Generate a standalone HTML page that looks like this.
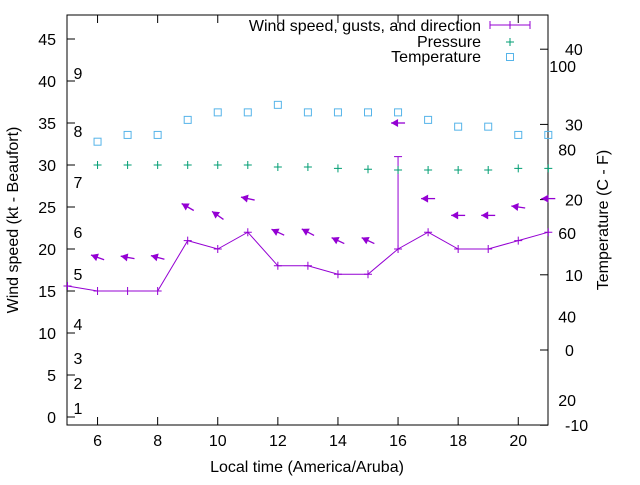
<!DOCTYPE html>
<html><head><meta charset="utf-8"><style>
body{margin:0;background:#fff}
svg{font-family:"Liberation Sans",sans-serif;font-size:16px}
</style></head><body>
<svg id="c" width="640" height="480" xmlns="http://www.w3.org/2000/svg"></svg>
<script>
const hours=[5,6,7,8,9,10,11,12,13,14,15,16,17,18,19,20,21];
const windSpeed=[15.6,15,15,15,21,20,22,18,18,17,17,20,22,20,20,21,22];
const gustHours=[16];
const gustValues=[31];
const arrowHours=[6,7,8,9,10,11,12,13,14,15,16,17,18,19,20,21];
const arrowLevels=[19,19,19,25,24,26,22,22,21,21,35,26,24,24,25,26];
const arrowAngles=[20,10,15,30,35,12,25,28,25,25,0,0,0,0,8,0];
const tempHours=[6,7,8,9,10,11,12,13,14,15,16,17,18,19,20,21];
const tempC=[27.7,28.6,28.6,30.6,31.6,31.6,32.6,31.6,31.6,31.6,31.6,30.6,29.7,29.7,28.6,28.6];
const pressHours=[6,7,8,9,10,11,12,13,14,15,16,17,18,19,20,21];
const pressure=[30,30,30,30,30,30,29.76,29.76,29.6,29.5,29.4,29.4,29.4,29.4,29.6,29.6];
const leftTicks=[0,5,10,15,20,25,30,35,40,45];
const rightTicks=[-10,0,10,20,30,40];
const fTicks=[20,40,60,80,100];
const xTicks=[6,8,10,12,14,16,18,20];
const bft=[[1,408],[2,383],[3,358],[4,324],[5,274],[6,232],[7,182],[8,131],[9,73]];

const L=67,R=548,T=15,B=425;
const X=h=>67.5+(h-5)*30.05;
const Y=v=>417-v*8.4;
const YT=t=>350-t*7.52;
const YF=f=>YT((f-32)*5/9);
const svg=document.getElementById('c');
const NS='http://www.w3.org/2000/svg';
function mk(tag,a,parent){const e=document.createElementNS(NS,tag);for(const k in a)e.setAttribute(k,a[k]);(parent||svg).appendChild(e);return e;}
function txt(x,y,s,anchor,name,extra){const e=mk('text',Object.assign({x:x,y:y,'text-anchor':anchor||'start'},extra||{}));e.textContent=s;


return e;}

const frame=mk('rect',{x:L,y:T,width:R-L,height:B-T,fill:'none',stroke:'#000','stroke-width':1});



leftTicks.forEach(v=>{const y=Y(v);mk('line',{x1:L,y1:y,x2:L+8,y2:y,stroke:'#000'});
txt(56,y+6,String(v),'end','y-tick-label');});
rightTicks.forEach(v=>{const y=YT(v);mk('line',{x1:R-8,y1:y,x2:R,y2:y,stroke:'#000'});
txt(565,y+6,String(v),'start','y2-tick-label');});
fTicks.forEach(v=>{txt(576,YF(v)+6,String(v),'end','fahrenheit-label');});
xTicks.forEach(h=>{const x=X(h);mk('line',{x1:x,y1:B,x2:x,y2:B-8,stroke:'#000'});mk('line',{x1:x,y1:T,x2:x,y2:T+8,stroke:'#000'});
txt(x,446,String(h),'middle','x-tick-label');});
bft.forEach(b=>txt(78,b[1]+6,String(b[0]),'middle','beaufort-label'));

txt(307,472,'Local time (America/Aruba)','middle','x-axis-title');
txt(0,0,'Wind speed (kt - Beaufort)','middle','y-axis-title',{transform:'translate(18,220) rotate(-90)'});
txt(0,0,'Temperature (C - F)','middle','y2-axis-title',{transform:'translate(608,220) rotate(-90)'});

const purple='#9400d3',green='#009e73',blue='#56b4e9';
const pl=mk('polyline',{points:hours.map((h,i)=>X(h)+','+Y(windSpeed[i])).join(' '),fill:'none',stroke:purple,'stroke-width':1});


hours.forEach((h,i)=>{const x=X(h),y=Y(windSpeed[i]);mk('path',{d:`M${x-4},${y}H${x+4}M${x},${y-4}V${y+4}`,stroke:purple});});
gustHours.forEach((h,i)=>{const j=hours.indexOf(h);const x=X(h);const g=mk('path',{d:`M${x},${Y(windSpeed[j])}V${Y(gustValues[i])}M${x-4},${Y(gustValues[i])}H${x+4}`,stroke:purple,fill:'none'});

});
arrowHours.forEach((h,i)=>{const cx=X(h),cy=Y(arrowLevels[i]);const a=arrowAngles[i]*Math.PI/180;
const dx=-Math.cos(a)*7,dy=-Math.sin(a)*7;const hx=cx+dx,hy=cy+dy,tx=cx-dx,ty=cy-dy;
const ux=Math.cos(a),uy=Math.sin(a);
const p1=[hx+ux*7-uy*4,hy+uy*7+ux*4],p2=[hx+ux*7+uy*4,hy+uy*7-ux*4];
const g=mk('g',{});


mk('line',{x1:hx,y1:hy,x2:tx,y2:ty,stroke:purple,'stroke-width':1.3},g);
mk('polygon',{points:`${hx},${hy} ${p1[0]},${p1[1]} ${p2[0]},${p2[1]}`,fill:purple},g);});
pressHours.forEach((h,i)=>{const x=X(h),y=Y(pressure[i]);const p=mk('path',{d:`M${x-4},${y}H${x+4}M${x},${y-4}V${y+4}`,stroke:green});

});
tempHours.forEach((h,i)=>{const x=X(h),y=YT(tempC[i]);const r=mk('rect',{x:x-3.5,y:y-3.5,width:7,height:7,fill:'none',stroke:blue});

});
txt(481,31,'Wind speed, gusts, and direction','end','legend-wind');
mk('path',{d:'M490,25H530M490,21V29M530,21V29M510,21V29',stroke:purple});
txt(481,47,'Pressure','end','legend-pressure');
mk('path',{d:'M506,42H514M510,38V46',stroke:green});
txt(481,62,'Temperature','end','legend-temperature');
mk('rect',{x:506.5,y:53.5,width:7,height:7,fill:'none',stroke:blue});
</script>
</body></html>
